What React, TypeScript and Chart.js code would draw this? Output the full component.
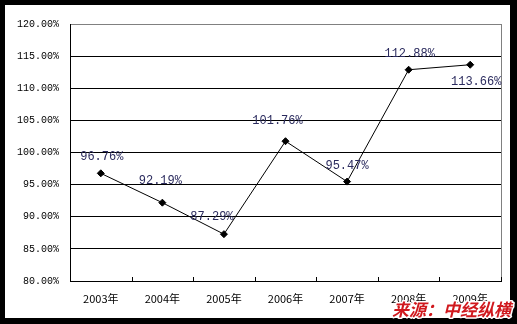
import React, { useEffect, useRef } from "react";
import { Chart, registerables } from "chart.js";

Chart.register(...registerables);

const categories = ["2003年", "2004年", "2005年", "2006年", "2007年", "2008年", "2009年"];
const values = [96.76, 92.19, 87.29, 101.76, 95.47, 112.88, 113.66];
const yMin = 80;
const yMax = 120;
const yStep = 5;
const sourceText = "来源：中经纵横";
// label offsets relative to each point (dx, dy) in px
const labelOffsets: [number, number][] = [
  [1, -16],
  [-2, -22],
  [-12, -17],
  [-8, -20],
  [0, -16],
  [1, -16],
  [6, 17],
];

const framePlugin = {
  id: "frame",
  beforeDraw(chart: any) {
    const { ctx, width, height } = chart;
    ctx.save();
    ctx.fillStyle = "#000";
    ctx.fillRect(0, 0, width, height);
    ctx.fillStyle = "#fff";
    ctx.fillRect(5, 5, 505, 313);
    ctx.restore();
  },
  afterDraw(chart: any) {
    const { ctx, chartArea } = chart;
    const xs = chart.scales.x;
    ctx.save();
    // plot area right border (gray)
    ctx.strokeStyle = "#808080";
    ctx.lineWidth = 1;
    ctx.beginPath();
    ctx.moveTo(Math.round(chartArea.right) + 0.5, chartArea.top);
    ctx.lineTo(Math.round(chartArea.right) + 0.5, chartArea.bottom);
    ctx.stroke();
    // inward x tick marks at category boundaries
    ctx.strokeStyle = "#000";
    const n = categories.length;
    const half = (xs.getPixelForValue(1) - xs.getPixelForValue(0)) / 2;
    for (let i = 0; i < n; i++) {
      const x = Math.round(xs.getPixelForValue(i) + half) + 0.5;
      ctx.beginPath();
      ctx.moveTo(x, Math.round(chartArea.bottom));
      ctx.lineTo(x, Math.round(chartArea.bottom) - 4);
      ctx.stroke();
    }
    // data labels
    const meta = chart.getDatasetMeta(0);
    ctx.font = "12px 'Liberation Mono'";
    ctx.fillStyle = "#2b2b5e";
    ctx.textAlign = "center";
    ctx.textBaseline = "middle";
    meta.data.forEach((pt: any, i: number) => {
      const [dx, dy] = labelOffsets[i];
      ctx.fillText(values[i].toFixed(2) + "%", pt.x + dx, pt.y + dy);
    });
    // source text
    ctx.font = "italic bold 17px 'Noto Sans CJK SC'";
    ctx.textAlign = "right";
    ctx.textBaseline = "alphabetic";
    ctx.lineJoin = "round";
    ctx.strokeStyle = "#fff";
    ctx.lineWidth = 3;
    ctx.strokeText(sourceText, 511, 316);
    ctx.fillStyle = "#d0191e";
    ctx.fillText(sourceText, 511, 316);
    ctx.restore();
  },
};

export default function App() {
  const ref = useRef<HTMLCanvasElement>(null);
  useEffect(() => {
    document.body.style.margin = "0";
    const chart = new Chart(ref.current as HTMLCanvasElement, {
      type: "line",
      data: {
        labels: categories,
        datasets: [
          {
            data: values,
            borderColor: "#000",
            borderWidth: 1,
            pointStyle: "rectRot",
            pointRadius: 3.5,
            pointBackgroundColor: "#000",
            pointBorderColor: "#000",
            pointBorderWidth: 1,
            tension: 0,
          },
        ],
      },
      options: {
        animation: false,
        responsive: false,
        maintainAspectRatio: false,
        layout: { padding: { top: 24, right: 16, left: 0, bottom: 0 } },
        plugins: { legend: { display: false }, tooltip: { enabled: false } },
        scales: {
          x: {
            offset: true,
            grid: { display: true, drawOnChartArea: false, drawTicks: false, offset: true },
            border: { display: true, color: "#000", width: 1 },
            ticks: {
              color: "#000",
              padding: 11,
              font: { family: "'Noto Sans CJK SC'", size: 11 },
              maxRotation: 0,
              autoSkip: false,
            },
            afterFit(scale: any) {
              scale.height = 43;
            },
          },
          y: {
            min: yMin,
            max: yMax,
            grid: {
              drawTicks: false,
              color: (c: any) => (c.tick && c.tick.value === yMax ? "#808080" : "#000"),
              lineWidth: 1,
            },
            border: { display: true, color: "#000", width: 1 },
            ticks: {
              stepSize: yStep,
              color: "#000",
              padding: 11,
              font: { family: "'Liberation Mono'", size: 10 },
              callback: (v: any) => Number(v).toFixed(2) + "%",
            },
            afterFit(scale: any) {
              scale.width = 70;
            },
          },
        },
      },
      plugins: [framePlugin],
    });
    return () => chart.destroy();
  }, []);
  return <canvas ref={ref} width={517} height={324} style={{ display: "block" }} />;
}
